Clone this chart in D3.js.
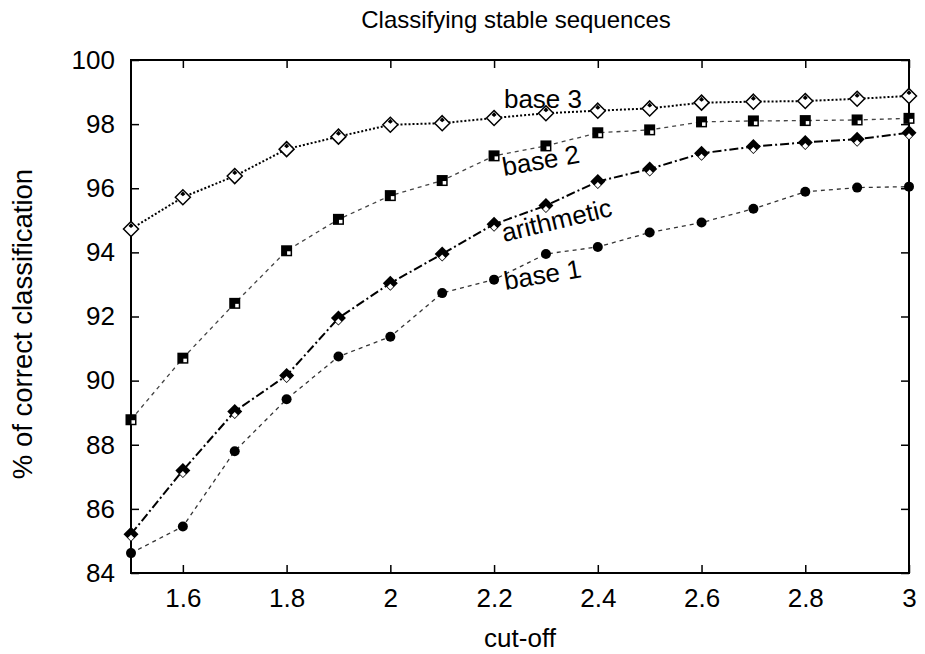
<!DOCTYPE html>
<html>
<head>
<meta charset="utf-8">
<script src="https://cdn.jsdelivr.net/npm/d3@7"></script>
<style>
  body { margin: 0; background: #fff; }
  svg text { font-family: "Liberation Sans", Arial, Helvetica, sans-serif; fill: #000; }
</style>
</head>
<body>
<div id="chart"></div>
<script>
var cutoffs = [1.5, 1.6, 1.7, 1.8, 1.9, 2.0, 2.1, 2.2, 2.3, 2.4, 2.5, 2.6, 2.7, 2.8, 2.9, 3.0];
var base3 = [94.73, 95.72, 96.38, 97.22, 97.61, 97.98, 98.03, 98.19, 98.34, 98.42, 98.49, 98.67, 98.70, 98.72, 98.79, 98.88];
var base2 = [88.78, 90.70, 92.41, 94.05, 95.03, 95.77, 96.24, 97.01, 97.32, 97.73, 97.82, 98.07, 98.10, 98.11, 98.13, 98.18];
var arithmetic = [85.21, 87.20, 89.04, 90.16, 91.95, 93.04, 93.95, 94.88, 95.46, 96.21, 96.60, 97.09, 97.30, 97.43, 97.53, 97.73];
var base1 = [84.62, 85.45, 87.80, 89.42, 90.75, 91.37, 92.73, 93.15, 93.95, 94.17, 94.62, 94.93, 95.36, 95.89, 96.02, 96.05];
var xTicks = [1.6, 1.8, 2, 2.2, 2.4, 2.6, 2.8, 3];
var yTicks = [84, 86, 88, 90, 92, 94, 96, 98, 100];

var width = 925;
var height = 654;
var margin = {top: 60, right: 16, bottom: 81, left: 131};

var svg = d3.select("#chart")
    .append("svg")
    .attr("width", width)
    .attr("height", height);

var x = d3.scaleLinear()
    .domain([1.5, 3])
    .range([margin.left, width - margin.right]);

var y = d3.scaleLinear()
    .domain([84, 100])
    .range([height - margin.bottom, margin.top]);

// axes, ticks pointing inward on all four sides
svg.append("g")
    .attr("transform", "translate(0," + y(84) + ")")
    .call(d3.axisBottom(x).tickValues(xTicks).tickFormat(d3.format("")).tickSizeInner(-8).tickSizeOuter(0).tickPadding(16))
    .call(function (g) {
        g.select(".domain").remove();
        g.selectAll("line").attr("stroke", "#000").attr("stroke-width", 1.5);
        g.selectAll("text").attr("font-size", "26px");
    });

svg.append("g")
    .attr("transform", "translate(0," + y(100) + ")")
    .call(d3.axisTop(x).tickValues(xTicks).tickFormat("").tickSizeInner(-8).tickSizeOuter(0))
    .call(function (g) {
        g.select(".domain").remove();
        g.selectAll("line").attr("stroke", "#000").attr("stroke-width", 1.5);
    });

svg.append("g")
    .attr("transform", "translate(" + x(1.5) + ",0)")
    .call(d3.axisLeft(y).tickValues(yTicks).tickSizeInner(-8).tickSizeOuter(0).tickPadding(16))
    .call(function (g) {
        g.select(".domain").remove();
        g.selectAll("line").attr("stroke", "#000").attr("stroke-width", 1.5);
        g.selectAll("text").attr("font-size", "26px");
    });

svg.append("g")
    .attr("transform", "translate(" + x(3) + ",0)")
    .call(d3.axisRight(y).tickValues(yTicks).tickFormat("").tickSizeInner(-8).tickSizeOuter(0))
    .call(function (g) {
        g.select(".domain").remove();
        g.selectAll("line").attr("stroke", "#000").attr("stroke-width", 1.5);
    });

// plot border
svg.append("rect")
    .attr("x", x(1.5))
    .attr("y", y(100))
    .attr("width", x(3) - x(1.5))
    .attr("height", y(84) - y(100))
    .attr("fill", "none")
    .attr("stroke", "#000")
    .attr("stroke-width", 2);

var series = [
    {name: "base 1", values: base1, color: "#333", width: 1.3, dash: "4,4", marker: "circle"},
    {name: "arithmetic", values: arithmetic, color: "#000", width: 2, dash: "9,3,2,3", marker: "diamondFilled"},
    {name: "base 2", values: base2, color: "#444", width: 1.3, dash: "4,4", marker: "square"},
    {name: "base 3", values: base3, color: "#000", width: 2, dash: "2,2", marker: "diamondOpen"}
];

var line = d3.line()
    .x(function (d, i) { return x(cutoffs[i]); })
    .y(function (d) { return y(d); });

series.forEach(function (s) {
    svg.append("path")
        .datum(s.values)
        .attr("fill", "none")
        .attr("stroke", s.color)
        .attr("stroke-width", s.width)
        .attr("stroke-dasharray", s.dash)
        .attr("d", line);

    var pts = svg.append("g")
        .selectAll("g")
        .data(s.values)
        .enter()
        .append("g")
        .attr("transform", function (d, i) {
            return "translate(" + x(cutoffs[i]) + "," + y(d) + ")";
        });

    if (s.marker == "circle") {
        pts.append("circle").attr("r", 5).attr("fill", "#000");
    } else if (s.marker == "square") {
        pts.append("rect")
            .attr("x", -5.5).attr("y", -5.5).attr("width", 11).attr("height", 11)
            .attr("fill", "#000");
        pts.append("rect")
            .attr("x", 0.5).attr("y", 0.5).attr("width", 3.5).attr("height", 3.5)
            .attr("fill", "#fff");
    } else if (s.marker == "diamondFilled") {
        pts.append("path").attr("d", "M0,-7.5L7.5,0L0,7.5L-7.5,0Z").attr("fill", "#000");
        pts.append("path").attr("d", "M0,0.5L3,3.5L0,6.5L-3,3.5Z").attr("fill", "#fff");
    } else {
        pts.append("path")
            .attr("d", "M0,-7.5L7.5,0L0,7.5L-7.5,0Z")
            .attr("fill", "#fff")
            .attr("stroke", "#000")
            .attr("stroke-width", 1.5);
        pts.append("path").attr("d", "M0,-6L2.5,-3L0,-1L-2.5,-3Z").attr("fill", "#000");
    }
});

// series labels placed on the curves
var labels = [
    {text: "base 3", x: 2.219, y: 98.50, angle: 0},
    {text: "base 2", x: 2.219, y: 96.38, angle: -10},
    {text: "arithmetic", x: 2.219, y: 94.32, angle: -13.5},
    {text: "base 1", x: 2.222, y: 92.83, angle: -9.5}
];

svg.selectAll(".serieslabel")
    .data(labels)
    .enter()
    .append("text")
    .attr("class", "serieslabel")
    .attr("font-size", "26px")
    .attr("transform", function (d) {
        return "translate(" + x(d.x) + "," + y(d.y) + ") rotate(" + d.angle + ")";
    })
    .text(function (d) { return d.text; });

// title and axis labels
svg.append("text")
    .attr("x", 516)
    .attr("y", 28)
    .attr("text-anchor", "middle")
    .attr("font-size", "24px")
    .text("Classifying stable sequences");

svg.append("text")
    .attr("x", (x(1.5) + x(3)) / 2)
    .attr("y", 647)
    .attr("text-anchor", "middle")
    .attr("font-size", "26px")
    .text("cut-off");

svg.append("text")
    .attr("transform", "rotate(-90)")
    .attr("x", -324)
    .attr("y", 32)
    .attr("text-anchor", "middle")
    .attr("font-size", "27.5px")
    .text("% of correct classification");
</script>
</body>
</html>
